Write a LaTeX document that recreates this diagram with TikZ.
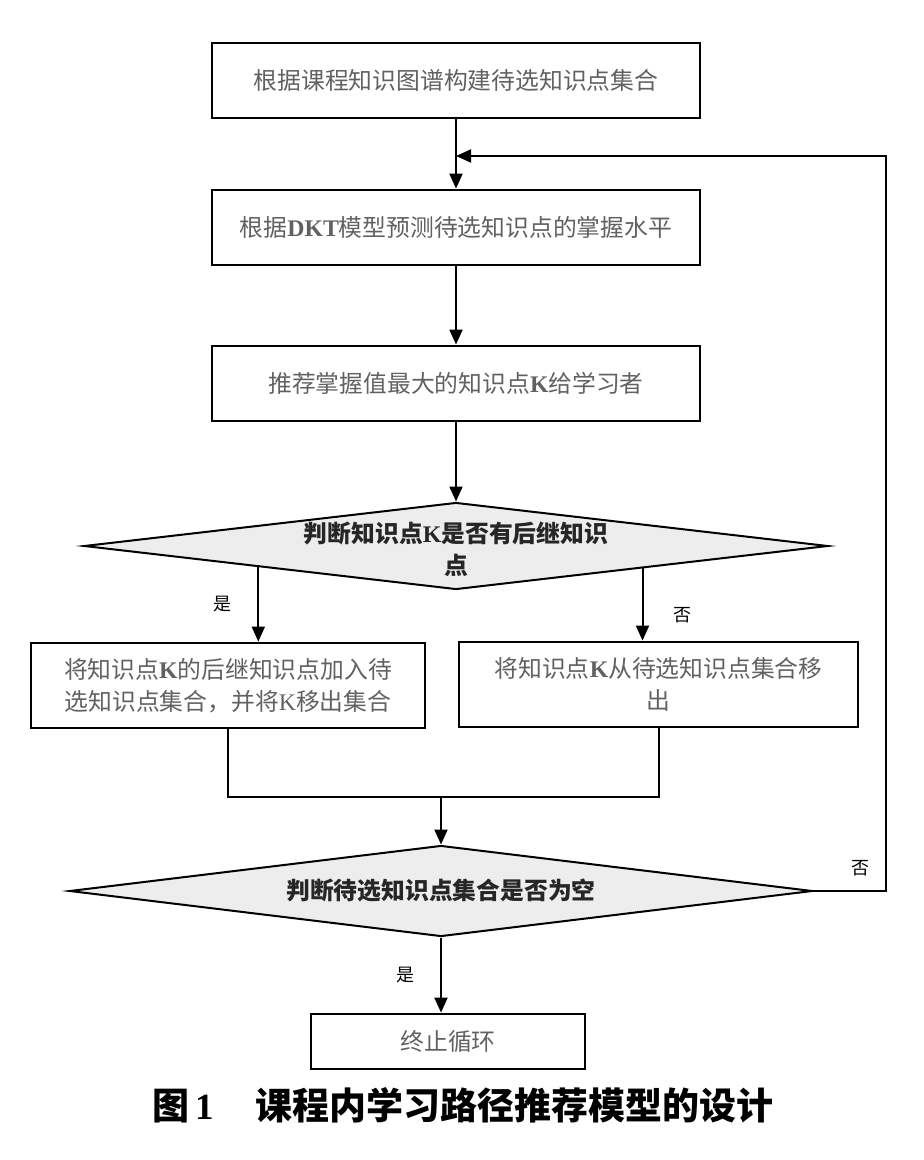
\documentclass[tikz,border=0pt]{standalone}
\usepackage{fontspec}
\setmainfont{Liberation Serif}
\newfontfamily\cjk{Noto Sans CJK SC}
\usetikzlibrary{shapes.geometric,arrows.meta,calc}
\newcommand\lat[1]{{\rmfamily\bfseries #1}}
\begin{document}
\begin{tikzpicture}[x=0.5pt,y=-0.5pt,>={Triangle[length=7.5pt,width=6.5pt]},
	font=\cjk\fontsize{11.9}{16}\selectfont,
	box/.style={draw,line width=1.4pt,minimum width=244pt,minimum height=37.5pt,inner sep=0pt,align=center,text=black!62},
	decision/.style={diamond,draw,line width=1pt,fill=black!7,inner sep=0pt},
	dtext/.style={align=center,inner sep=0pt,text=black!85,font=\cjk\bfseries\fontsize{11.9}{16}\selectfont},
	line/.style={line width=1pt},
	yn/.style={inner sep=0pt,font=\cjk\fontsize{9}{9}\selectfont}]
	\useasboundingbox (0,0) rectangle (924,1160);
	% 流程框
	\node[box] (b1) at (456,80.5) {根据课程知识图谱构建待选知识点集合};
	\node[box] (b2) at (456,227.5) {根据\lat{DKT}模型预测待选知识点的掌握水平};
	\node[box] (b3) at (456,383.5) {推荐掌握值最大的知识点\lat{K}给学习者};
	\node[decision,minimum width=372pt,minimum height=43.5pt,
		label={[dtext,yshift=-1.5pt]center:{判断知识点\lat{K}是否有后继知识\\点}}] (d1) at (456,546) {};
	\node[box,minimum width=197pt,minimum height=42.5pt] (b4) at (228,685.5)
		{将知识点\lat{K}的后继知识点加入待\\选知识点集合，并将{\rmfamily K}移出集合};
	\node[box,minimum width=199.5pt,minimum height=42.5pt] (b5) at (658.5,684.5)
		{将知识点\lat{K}从待选知识点集合移\\出};
	\node[decision,minimum width=371.5pt,minimum height=45.5pt,
		label={[dtext]center:{判断待选知识点集合是否为空}}] (d2) at (441,891) {};
	\node[box,minimum width=137pt,minimum height=27.5pt] (b6) at (448,1041.5) {终止循环};
	% 图题
	\node[font=\cjk\bfseries\fontsize{18.5}{22}\selectfont] (cap) at (463,1105)
		{图\,{\rmfamily\bfseries 1}\hspace{1.1em}课程内学习路径推荐模型的设计};
	% 连线
	\coordinate (j) at (456,156);
	\coordinate (m) at (441,797);
	\coordinate (d1l) at ($(d1.west)!.47!(d1.south)$);
	\draw[line,->] (b1) -- (b2);
	\draw[line,->] (b2) -- (b3);
	\draw[line,->] (b3) -- (d1);
	\draw[line,->] (d1l) -- node[yn,left=13pt]{是} (b4.north -| d1l);
	\draw[line,->] (d1.south east) -- node[yn,pos=.65,right=15pt]{否} (b5.north -| d1.south east);
	\draw[line] (b4.south) |- (m) -| (b5.south);
	\draw[line,->] (m) -- (d2.north);
	\draw[line,->] (d2.south) -- node[yn,left=13pt]{是} (b6.north -| d2.south);
	\draw[line,->] (d2.east) -- node[yn,pos=.65,above=7pt]{否} ++(72,0) |- (j);
\end{tikzpicture}
\end{document}
